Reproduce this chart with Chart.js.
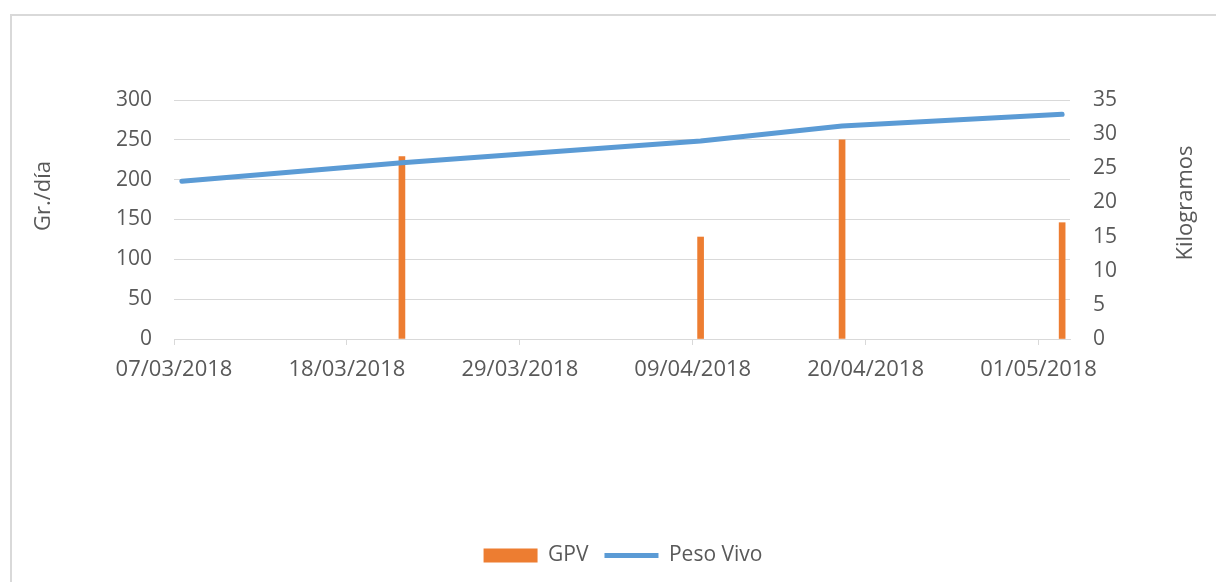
<!DOCTYPE html>
<html>
<head>
<meta charset="utf-8">
<script src="https://cdn.jsdelivr.net/npm/chart.js@4.4.1/dist/chart.umd.min.js"></script>
<style>
  html, body { margin: 0; padding: 0; background: #fff; overflow: hidden; }
  #marco { position: absolute; left: 10px; top: 14px; width: 1230px; height: 600px;
           border-left: 2px solid #d9d9d9; border-top: 2px solid #d9d9d9; }
  #caja { position: absolute; left: 0; top: 0; width: 1216px; height: 582px; }
</style>
</head>
<body>
<div id="marco"></div>
<div id="caja"><canvas id="grafico"></canvas></div>
<script>
  // Datos
  const fechas = ['07/03/2018', '21/03/2018', '09/04/2018', '18/04/2018', '02/05/2018'];
  const gpv = [null, 229, 128, 250, 146];          // Gr./día
  const pesoVivo = [23.1, 25.8, 29.0, 31.2, 32.9]; // Kilogramos
  const etiquetasX = ['07/03/2018', '18/03/2018', '29/03/2018', '09/04/2018', '20/04/2018', '01/05/2018'];

  // dias desde 07/03/2018 (eje de fechas tipo Excel, cada dia ocupa una casilla)
  function dia(f) {
    const p = f.split('/');
    return (Date.UTC(+p[2], +p[1] - 1, +p[0]) - Date.UTC(2018, 2, 7)) / 86400000;
  }

  const gris = '#595959';
  const fuente = 'Open Sans';

  // titulos de los ejes, girados como en Excel
  const titulos = {
    id: 'titulos',
    afterDraw(chart) {
      const ctx = chart.ctx;
      ctx.save();
      ctx.fillStyle = gris;
      ctx.font = '22px "' + fuente + '"';
      ctx.textAlign = 'center';
      ctx.textBaseline = 'middle';
      [['Gr./día', 44, 196], ['Kilogramos', 1186, 203]].forEach(t => {
        ctx.save();
        ctx.translate(t[1], t[2]);
        ctx.rotate(-Math.PI / 2);
        ctx.fillText(t[0], 0, 0);
        ctx.restore();
      });
      ctx.restore();
    }
  };

  const ctx = document.getElementById('grafico').getContext('2d');
  const grafico = new Chart(ctx, {
    type: 'bar',
    data: {
      datasets: [{
        label: 'GPV',
        data: fechas.map((f, i) => ({ x: dia(f) + 0.5, y: gpv[i] })),
        backgroundColor: '#ed7d31',
        borderWidth: 0,
        barThickness: 6,
        pointStyle: 'rect',
        yAxisID: 'y',
        order: 1
      }, {
        type: 'line',
        label: 'Peso Vivo',
        data: fechas.map((f, i) => ({ x: dia(f) + 0.5, y: pesoVivo[i] })),
        borderColor: '#5b9bd5',
        backgroundColor: '#5b9bd5',
        borderWidth: 5,
        borderCapStyle: 'round',
        borderJoinStyle: 'round',
        pointRadius: 0,
        pointStyle: 'line',
        tension: 0,
        yAxisID: 'y2',
        order: 0
      }]
    },
    options: {
      responsive: true,
      maintainAspectRatio: false,
      animation: false,
      layout: { padding: { left: 30, right: 0, top: 100, bottom: 6 } },
      plugins: {
        tooltip: { enabled: false },
        legend: {
          position: 'bottom',
          labels: {
            usePointStyle: true,
            pointStyleWidth: 54,
            boxHeight: 14,
            padding: 16,
            color: gris,
            font: { family: fuente, size: 21 },
            sort: (a, b) => a.datasetIndex - b.datasetIndex
          }
        }
      },
      scales: {
        x: {
          type: 'linear',
          min: 0,
          max: 57,
          offset: false,
          afterFit: s => { s.height = 190; },
          border: { display: true, color: '#d9d9d9', width: 1 },
          grid: { offset: false, drawOnChartArea: false, drawTicks: true, tickLength: 6, color: '#d9d9d9' },
          ticks: {
            stepSize: 11,
            includeBounds: false,
            maxRotation: 0,
            autoSkip: false,
            padding: 12,
            color: gris,
            font: { family: fuente, size: 22 },
            callback: v => etiquetasX[Math.round(v / 11)]
          }
        },
        y: {
          position: 'left',
          min: 0,
          max: 300,
          afterFit: s => { s.width = 144; },
          border: { display: false },
          grid: { color: '#d9d9d9', lineWidth: 1, drawTicks: false },
          ticks: { stepSize: 50, padding: 22, color: gris, font: { family: fuente, size: 21 } }
        },
        y2: {
          position: 'right',
          min: 0,
          max: 35,
          afterFit: s => { s.width = 146; },
          border: { display: false },
          grid: { drawOnChartArea: false, drawTicks: false },
          ticks: { stepSize: 5, padding: 23, color: gris, font: { family: fuente, size: 21 } }
        }
      }
    },
    plugins: [titulos]
  });
</script>
</body>
</html>
